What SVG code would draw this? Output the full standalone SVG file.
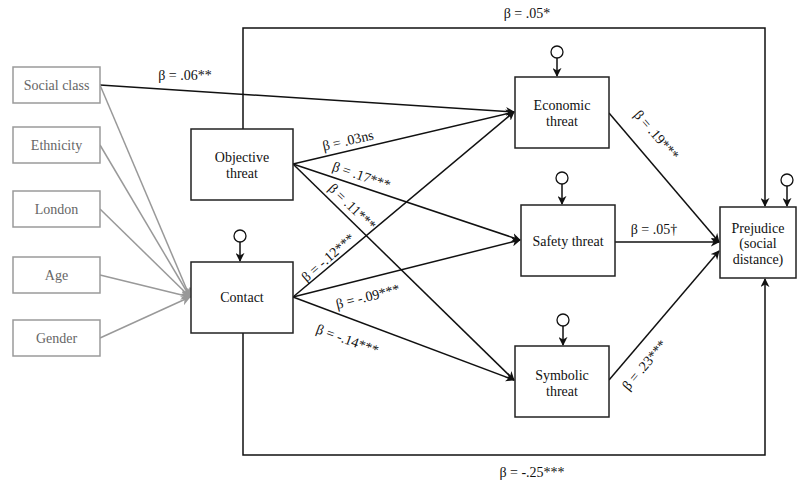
<svg xmlns="http://www.w3.org/2000/svg" width="798" height="482" viewBox="0 0 798 482" font-family="'Liberation Serif', 'DejaVu Serif', serif">
<defs>
<marker id="ah" viewBox="0 0 10 10" refX="9" refY="5" markerWidth="9" markerHeight="9" markerUnits="userSpaceOnUse" orient="auto">
<path d="M0,0 L10,5 L0,10 L3,5 z" fill="#111"/>
</marker>
<marker id="ahg" viewBox="0 0 10 10" refX="9" refY="5" markerWidth="10" markerHeight="10" markerUnits="userSpaceOnUse" orient="auto">
<path d="M0,0 L10,5 L0,10 L3,5 z" fill="#999"/>
</marker>
<style>
.box{fill:#fff;stroke:#222;stroke-width:1.5}
.gbox{fill:#fff;stroke:#9a9a9a;stroke-width:1.5}
text{font-family:'Liberation Serif','DejaVu Serif',serif;font-size:14px;text-anchor:middle}
.t{fill:#111}
.gt{fill:#666}
.lb{fill:#111}
.c{fill:none;stroke:#111;stroke-width:1.5}
.g{fill:none;stroke:#999;stroke-width:1.5}
.e{fill:#fff;stroke:#111;stroke-width:1.3}
</style>
</defs>
<rect width="798" height="482" fill="#fff"/>
<g id="connectors">
<polyline class="c" points="243,129 243,28 765,28 765,206" marker-end="url(#ah)"/>
<polyline class="c" points="243,333 243,455 765,455 765,279" marker-end="url(#ah)"/>
<line class="c" x1="100" y1="85" x2="514" y2="112" marker-end="url(#ah)"/>
<line class="c" x1="293" y1="164" x2="514" y2="112" marker-end="url(#ah)"/>
<line class="c" x1="293" y1="164" x2="520" y2="240" marker-end="url(#ah)"/>
<line class="c" x1="293" y1="164" x2="514" y2="380" marker-end="url(#ah)"/>
<line class="c" x1="293" y1="297" x2="514" y2="112" marker-end="url(#ah)"/>
<line class="c" x1="293" y1="297" x2="520" y2="240" marker-end="url(#ah)"/>
<line class="c" x1="293" y1="297" x2="514" y2="380" marker-end="url(#ah)"/>
<line class="c" x1="609" y1="113" x2="719" y2="242" marker-end="url(#ah)"/>
<line class="c" x1="615" y1="242" x2="719" y2="242" marker-end="url(#ah)"/>
<line class="c" x1="609" y1="380" x2="719" y2="251" marker-end="url(#ah)"/>
<line class="g" x1="100" y1="85" x2="190" y2="297" marker-end="url(#ahg)"/>
<line class="g" x1="100" y1="145" x2="190" y2="297" marker-end="url(#ahg)"/>
<line class="g" x1="100" y1="209" x2="190" y2="297" marker-end="url(#ahg)"/>
<line class="g" x1="100" y1="275" x2="190" y2="297" marker-end="url(#ahg)"/>
<line class="g" x1="100" y1="338" x2="190" y2="297" marker-end="url(#ahg)"/>
<line class="c" x1="557" y1="58" x2="557" y2="76" marker-end="url(#ah)"/>
<line class="c" x1="562" y1="184" x2="562" y2="204" marker-end="url(#ah)"/>
<line class="c" x1="563" y1="326" x2="563" y2="345" marker-end="url(#ah)"/>
<line class="c" x1="787" y1="186" x2="787" y2="206" marker-end="url(#ah)"/>
<line class="c" x1="240" y1="242" x2="240" y2="261" marker-end="url(#ah)"/>
<text class="lb" x="527" y="18">β = .05*</text>
<text class="lb" x="532" y="477">β = -.25***</text>
<text class="lb" x="185" y="80">β = .06**</text>
<text class="lb" transform="translate(349,145) rotate(-13)">β = .03ns</text>
<text class="lb" transform="translate(360,180) rotate(19)">β = .17***</text>
<text class="lb" transform="translate(349,210) rotate(44)">β = .11***</text>
<text class="lb" transform="translate(331,261) rotate(-41)">β = -.12***</text>
<text class="lb" transform="translate(369,301) rotate(-14)">β = -.09***</text>
<text class="lb" transform="translate(346,344) rotate(20)">β = -.14***</text>
<text class="lb" transform="translate(653,138) rotate(49)">β = .19***</text>
<text class="lb" x="654" y="234">β = .05†</text>
<text class="lb" transform="translate(648,368) rotate(-50)">β = .23***</text>
</g>
<g id="social-class"><rect class="gbox" x="13" y="67" width="87" height="36"/><text class="gt" x="56.5" y="90">Social class</text></g>
<g id="ethnicity"><rect class="gbox" x="13" y="127" width="87" height="36"/><text class="gt" x="56.5" y="150">Ethnicity</text></g>
<g id="london"><rect class="gbox" x="13" y="191" width="87" height="36"/><text class="gt" x="56.5" y="214">London</text></g>
<g id="age"><rect class="gbox" x="13" y="257" width="87" height="36"/><text class="gt" x="56.5" y="280">Age</text></g>
<g id="gender"><rect class="gbox" x="13" y="320" width="87" height="36"/><text class="gt" x="56.5" y="343">Gender</text></g>
<g id="objective-threat"><rect class="box" x="191" y="129" width="102" height="71"/><text class="t" x="242" y="162">Objective</text><text class="t" x="242" y="178">threat</text></g>
<g id="contact"><circle class="e" cx="240" cy="236" r="6"/><rect class="box" x="191" y="262" width="102" height="71"/><text class="t" x="242" y="302">Contact</text></g>
<g id="economic-threat"><circle class="e" cx="557" cy="52" r="6"/><rect class="box" x="515" y="77" width="94" height="71"/><text class="t" x="562" y="110">Economic</text><text class="t" x="562" y="126">threat</text></g>
<g id="safety-threat"><circle class="e" cx="562" cy="178" r="6"/><rect class="box" x="521" y="205" width="94" height="71"/><text class="t" x="568" y="246">Safety threat</text></g>
<g id="symbolic-threat"><circle class="e" cx="563" cy="320" r="6"/><rect class="box" x="515" y="346" width="94" height="71"/><text class="t" x="562" y="380">Symbolic</text><text class="t" x="562" y="396">threat</text></g>
<g id="prejudice"><circle class="e" cx="787" cy="180" r="6"/><rect class="box" x="720" y="207" width="76" height="71"/><text class="t" x="758" y="233">Prejudice</text><text class="t" x="758" y="248">(social</text><text class="t" x="758" y="264">distance)</text></g>
</svg>
